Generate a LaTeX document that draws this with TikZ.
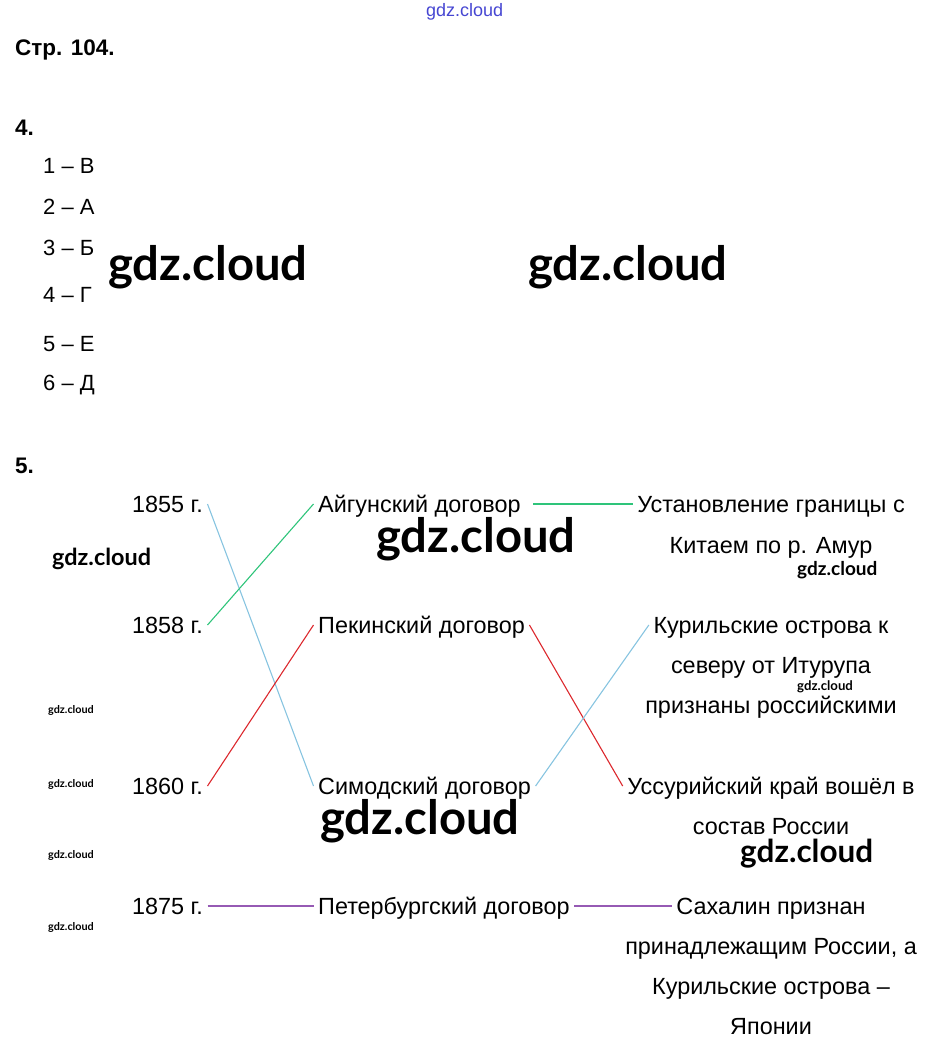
\documentclass[tikz,border=0pt]{standalone}
\usepackage{fontspec}
\setmainfont{Liberation Sans}
\newfontfamily\latofont{Lato}
\definecolor{cgreen}{RGB}{46,196,122}
\definecolor{cblue}{RGB}{135,196,224}
\definecolor{cred}{RGB}{220,40,45}
\definecolor{cpurple}{RGB}{150,90,180}
\definecolor{wmblue}{RGB}{70,70,210}
\tikzset{
  txt/.style={inner xsep=4.5pt, inner ysep=0pt, text height=16.75pt, text depth=0pt,
    font=\fontsize{23.4}{23.4}\selectfont},
  head/.style={inner sep=0pt, anchor=west, text height=16.1pt, text depth=0pt,
    font=\fontsize{22.5}{22.5}\selectfont\bfseries},
  item/.style={inner sep=0pt, anchor=west, text height=15.75pt, text depth=0pt,
    font=\fontsize{22}{22}\selectfont},
  wm/.style={inner sep=0pt, anchor=base west, font=\latofont\bfseries\fontsize{#1}{#1}\selectfont},
  wmtop/.style={inner sep=0pt, anchor=base west, text=wmblue, font=\fontsize{18}{18}\selectfont},
  conn/.style={line width=1.1pt}
}
\begin{document}
\begin{tikzpicture}[x=1pt,y=-1pt]
\useasboundingbox (0,0) rectangle (928,1048);
% watermark at top
\node[wmtop] (wm0) at (426,17) {gdz.cloud};
% headings
\node[head] (h1) at (15,47) {Стр. 104.};
\node[head] (h4) at (15,127) {4.};
\node[head] (h5) at (15,465) {5.};
% list
\node[item] (l1) at (43,166) {1 – В};
\node[item] (l2) at (43,207) {2 – А};
\node[item] (l3) at (43,248) {3 – Б};
\node[item] (l4) at (43,295) {4 – Г};
\node[item] (l5) at (43,344) {5 – Е};
\node[item] (l6) at (43,383) {6 – Д};
% years
\node[txt, anchor=east] (y1855) at (207.5,504) {1855 г.};
\node[txt, anchor=east] (y1858) at (207.5,625) {1858 г.};
\node[txt, anchor=east] (y1860) at (207.5,786) {1860 г.};
\node[txt, anchor=east] (y1875) at (207.5,906) {1875 г.};
% treaties
\node[txt, anchor=west] (t1) at (313.5,504) {Айгунский договор};
\node[txt, anchor=west] (t2) at (313.5,625) {Пекинский договор};
\node[txt, anchor=west] (t3) at (313.5,786) {Симодский договор};
\node[txt, anchor=west] (t4) at (313.5,906) {Петербургский договор};
% results
\node[txt] (r1a) at (771,504) {Установление границы с};
\node[txt] (r1b) at (771,545) {Китаем по р. Амур};
\node[txt] (r2a) at (771,625) {Курильские острова к};
\node[txt] (r2b) at (771,665) {северу от Итурупа};
\node[txt] (r2c) at (771,705) {признаны российскими};
\node[txt] (r3a) at (771,786) {Уссурийский край вошёл в};
\node[txt] (r3b) at (771,826) {состав России};
\node[txt] (r4a) at (771,906) {Сахалин признан};
\node[txt] (r4b) at (771,946) {принадлежащим России, а};
\node[txt] (r4c) at (771,986) {Курильские острова –};
\node[txt] (r4d) at (771,1026) {Японии};
% connectors
\draw[conn, cblue] (y1855.east) -- (t3.west);
\draw[conn, cgreen] (y1858.east) -- (t1.west);
\draw[conn, cred] (y1860.east) -- (t2.west);
\draw[conn, cgreen] ([xshift=8pt]t1.east) -- (r1a.west);
\draw[conn, cred] (t2.east) -- (r3a.west);
\draw[conn, cblue] (t3.east) -- (r2a.west);
\draw[conn, cpurple] (y1875.east) -- (t4.west);
\draw[conn, cpurple] (t4.east) -- (r4a.west);
% watermarks
\node[wm=47.2] (wm1) at (108,280) {gdz.cloud};
\node[wm=47.2] (wm2) at (528,280) {gdz.cloud};
\node[wm=47.2] (wm3) at (376,552) {gdz.cloud};
\node[wm=47.2] (wm4) at (320,834) {gdz.cloud};
\node[wm=31.5] (wm5) at (740,862) {gdz.cloud};
\node[wm=23.4] (wm6) at (52,565) {gdz.cloud};
\node[wm=19] (wm7) at (797,575) {gdz.cloud};
\node[wm=13.2] (wm8) at (797,690) {gdz.cloud};
\node[wm=10.8] (wm9) at (48,713) {gdz.cloud};
\node[wm=10.8] (wm10) at (48,787) {gdz.cloud};
\node[wm=10.8] (wm11) at (48,858) {gdz.cloud};
\node[wm=10.8] (wm12) at (48,930) {gdz.cloud};
\end{tikzpicture}
\end{document}
